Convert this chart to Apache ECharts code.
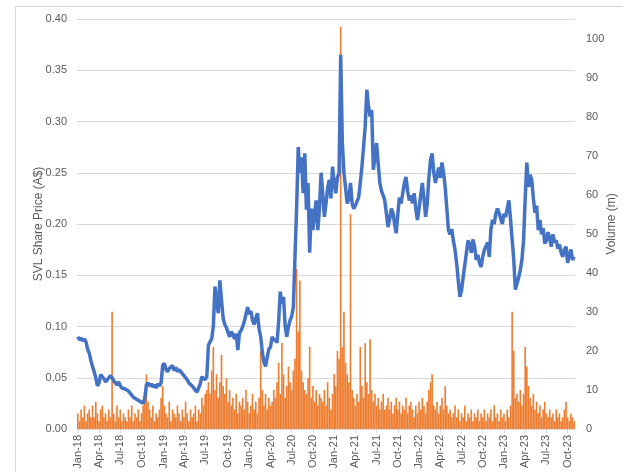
<!DOCTYPE html>
<html>
<head>
<meta charset="utf-8">
<script src="https://cdn.jsdelivr.net/npm/echarts@6/dist/echarts.min.js"></script>
<style>
  html, body { margin: 0; padding: 0; background: #fff; }
  #main { width: 623px; height: 472px; }
</style>
</head>
<body>
<div id="main"></div>
<script>
// weekly points, first week starts Mon 1 Jan 2018
const startDate = new Date(2018, 0, 1);
const monthNames = ["Jan", "Feb", "Mar", "Apr", "May", "Jun", "Jul", "Aug", "Sep", "Oct", "Nov", "Dec"];
const tickMonths = [0, 3, 6, 9];

// SVL share price (A$), weekly
const price = [
  0.090, 0.087, 0.089, 0.086, 0.088, 0.085, 0.078, 0.074, 0.067, 0.061,
  0.056, 0.050, 0.042, 0.045, 0.053, 0.052, 0.049, 0.046, 0.048, 0.050,
  0.052, 0.050, 0.047, 0.045, 0.043, 0.046, 0.042, 0.040, 0.039, 0.039,
  0.038, 0.037, 0.035, 0.033, 0.031, 0.030, 0.029, 0.028, 0.027, 0.026,
  0.025, 0.030, 0.043, 0.045, 0.042, 0.044, 0.041, 0.043, 0.040, 0.044,
  0.042, 0.045, 0.062, 0.064, 0.058, 0.056, 0.059, 0.058, 0.062, 0.057,
  0.060, 0.056, 0.058, 0.056, 0.054, 0.052, 0.051, 0.048, 0.045, 0.044,
  0.042, 0.041, 0.038, 0.036, 0.040, 0.044, 0.051, 0.050, 0.048, 0.051,
  0.082, 0.085, 0.088, 0.100, 0.139, 0.125, 0.113, 0.145, 0.126, 0.108,
  0.102, 0.099, 0.094, 0.090, 0.095, 0.092, 0.088, 0.093, 0.077, 0.094,
  0.096, 0.100, 0.105, 0.112, 0.119, 0.112, 0.115, 0.106, 0.102, 0.108,
  0.113, 0.098, 0.090, 0.075, 0.065, 0.061, 0.070, 0.078, 0.080, 0.090,
  0.086, 0.088, 0.084, 0.105, 0.134, 0.122, 0.129, 0.100, 0.090, 0.100,
  0.106, 0.110, 0.119, 0.168, 0.215, 0.275, 0.250, 0.265, 0.230, 0.269,
  0.214, 0.240, 0.172, 0.215, 0.194, 0.210, 0.223, 0.194, 0.215, 0.250,
  0.230, 0.207, 0.220, 0.235, 0.243, 0.225, 0.256, 0.240, 0.230, 0.245,
  0.250, 0.365, 0.279, 0.250, 0.235, 0.220, 0.225, 0.240, 0.220, 0.215,
  0.218, 0.222, 0.226, 0.240, 0.256, 0.275, 0.295, 0.331, 0.315, 0.305,
  0.311, 0.253, 0.265, 0.279, 0.258, 0.240, 0.232, 0.228, 0.223, 0.210,
  0.197, 0.205, 0.215, 0.211, 0.200, 0.191, 0.210, 0.226, 0.220, 0.230,
  0.240, 0.246, 0.232, 0.223, 0.228, 0.220, 0.230, 0.215, 0.204, 0.215,
  0.228, 0.240, 0.225, 0.207, 0.220, 0.245, 0.262, 0.269, 0.250, 0.240,
  0.248, 0.255, 0.245, 0.260, 0.250, 0.236, 0.215, 0.194, 0.190, 0.195,
  0.184, 0.175, 0.162, 0.145, 0.129, 0.135, 0.148, 0.160, 0.172, 0.184,
  0.180, 0.172, 0.185, 0.178, 0.165, 0.170, 0.162, 0.158, 0.168, 0.175,
  0.175, 0.182, 0.168, 0.195, 0.204, 0.200, 0.210, 0.215, 0.211, 0.205,
  0.200, 0.210, 0.207, 0.215, 0.223, 0.205, 0.185, 0.165, 0.136, 0.142,
  0.148, 0.155, 0.165, 0.184, 0.225, 0.260, 0.236, 0.248, 0.243, 0.225,
  0.211, 0.218, 0.194, 0.204, 0.190, 0.196, 0.181, 0.184, 0.192, 0.186,
  0.178, 0.190, 0.182, 0.184, 0.176, 0.180, 0.172, 0.168, 0.175, 0.178,
  0.162, 0.170, 0.175, 0.165, 0.168
];

// traded volume (m), weekly
const volume = [
  4, 2, 5, 3, 6, 2, 4, 5, 3, 6,
  3, 7, 4, 2, 5, 6, 3, 4, 2, 5,
  3, 30, 4, 2, 6, 3, 5, 2, 4, 3,
  2, 5, 3, 6, 2, 4, 3, 5, 2, 4,
  6, 9, 14, 7, 5, 3, 6, 2, 4, 3,
  5, 8, 11, 6, 4, 3, 7, 2, 5, 4,
  3, 6, 4, 2, 5, 3, 7, 4, 2, 5,
  3, 4, 6, 2, 5, 4, 8, 6, 9, 10,
  12, 9, 15, 21, 10, 14, 8, 12, 19, 11,
  9, 13, 7, 10, 6, 8, 5, 9, 4, 7,
  6, 8, 5, 10, 7, 4, 6, 9, 5, 7,
  4, 8, 20, 10, 6, 9, 5, 8, 6, 7,
  10, 8, 12, 17, 9, 22, 14, 8, 11, 16,
  12, 10, 15, 18, 41, 25, 38, 15, 12, 10,
  9, 13, 21, 8, 11, 7, 10, 6, 9, 8,
  7, 10, 6, 12, 8, 5, 9, 14, 11, 20,
  18, 103, 21, 30, 17, 14, 12, 55, 10, 8,
  6, 9, 7, 21, 11, 8, 22, 12, 9, 23,
  10, 7, 9, 6, 8, 5, 7, 9, 5, 6,
  8, 5, 7, 4, 6, 8, 5, 7, 4, 6,
  5, 8, 4, 6, 7, 5, 3, 6, 4, 7,
  5, 8, 6, 4, 7, 10, 12, 14, 6, 5,
  7, 4, 6, 8, 5, 11, 6, 4, 5, 3,
  4, 6, 3, 5, 2, 4, 3, 6, 2, 4,
  3, 5, 2, 4, 3, 5, 2, 4, 3, 5,
  2, 4, 3, 5, 2, 6, 3, 4, 2, 5,
  3, 4, 2, 5, 3, 6, 30, 20, 8, 9,
  7, 10, 6, 9, 21, 16, 11, 8, 6, 9,
  5, 7, 4, 6, 3, 5, 7, 4, 3, 5,
  3, 4, 2, 5, 3, 4, 2, 3, 5, 7,
  3, 2, 4, 3, 2
];

const priceTicks = { min: 0, max: 0.4, interval: 0.05 };
const volumeTicks = { min: 0, max: 105, interval: 10 };

// week labels
let weeks = [];
let labelIdx = {};
let prevMonth = -1;
for (let i = 0; i < price.length; i++) {
  let d = new Date(startDate.getTime() + i * 7 * 86400000);
  let m = d.getMonth();
  weeks.push(monthNames[m] + "-" + String(d.getFullYear()).slice(2));
  if (m !== prevMonth && tickMonths.indexOf(m) >= 0) labelIdx[i] = true;
  prevMonth = m;
}
const showLabel = (idx) => !!labelIdx[idx];

const textColor = "#595959";
const font = "Liberation Sans";

let myChart = echarts.init(document.getElementById("main"));
myChart.setOption({
  animation: false,
  textStyle: { fontFamily: font },
  graphic: [
    {
      type: "rect",
      shape: { x: 15.5, y: 6.5, width: 640, height: 500 },
      style: { fill: "none", stroke: "#d9d9d9", lineWidth: 1 },
      silent: true,
    },
  ],
  grid: {
    left: 77,
    right: 48,
    top: 19,
    bottom: 43,
    outerBoundsMode: "none",
  },
  xAxis: {
    type: "category",
    data: weeks,
    boundaryGap: true,
    axisLine: { lineStyle: { color: "#d9d9d9" } },
    axisTick: {
      show: true,
      interval: showLabel,
      alignWithLabel: true,
      length: 4,
      lineStyle: { color: "#d9d9d9" },
    },
    axisLabel: {
      interval: showLabel,
      rotate: 90,
      color: textColor,
      fontSize: 11,
      margin: 6,
    },
    splitLine: { show: false },
  },
  yAxis: [
    {
      type: "value",
      min: priceTicks.min,
      max: priceTicks.max,
      interval: priceTicks.interval,
      name: "SVL Share Price (A$)",
      nameLocation: "middle",
      nameGap: 32,
      nameMoveOverlap: false,
      nameTextStyle: { color: textColor, fontSize: 12 },
      axisLine: { show: false },
      axisTick: { show: false },
      axisLabel: {
        color: textColor,
        fontSize: 11,
        margin: 10,
        formatter: (v) => v.toFixed(2),
      },
      splitLine: { lineStyle: { color: "#d9d9d9" } },
    },
    {
      type: "value",
      position: "right",
      min: volumeTicks.min,
      max: volumeTicks.max,
      interval: volumeTicks.interval,
      name: "Volume (m)",
      nameLocation: "middle",
      nameGap: 31,
      nameRotate: 90,
      nameMoveOverlap: false,
      nameTextStyle: { color: textColor, fontSize: 12 },
      axisLine: { show: false },
      axisTick: { show: false },
      axisLabel: {
        color: textColor,
        fontSize: 11,
        margin: 11,
        showMaxLabel: false,
      },
      splitLine: { show: false },
    },
  ],
  series: [
    {
      name: "Volume",
      type: "bar",
      yAxisIndex: 1,
      barCategoryGap: "0%",
      itemStyle: { color: "#ED7D31" },
      data: volume,
    },
    {
      name: "Price",
      type: "line",
      yAxisIndex: 0,
      symbol: "none",
      lineStyle: { color: "#4472C4", width: 3.5 },
      itemStyle: { color: "#4472C4" },
      data: price,
    },
  ],
});
</script>
</body>
</html>
